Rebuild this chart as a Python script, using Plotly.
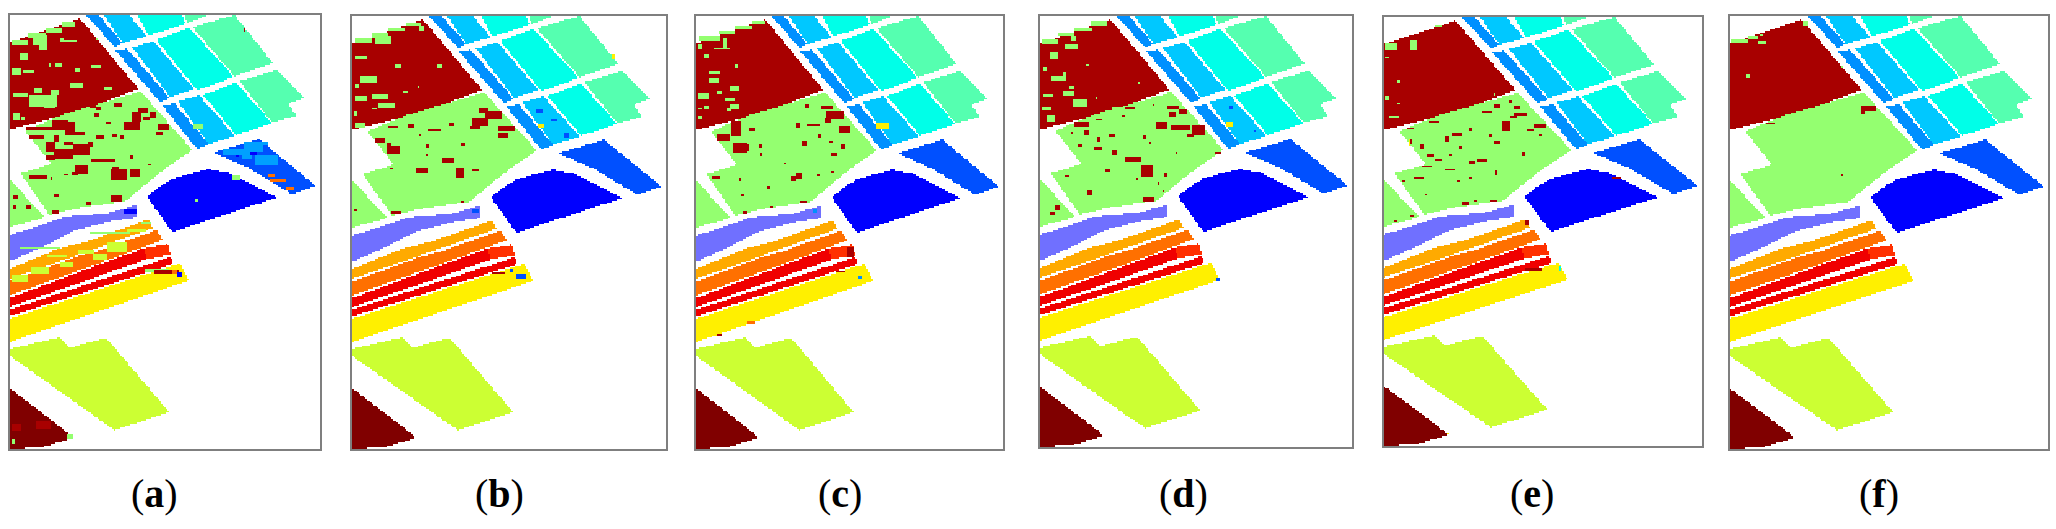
import numpy as np
import plotly.graph_objects as go

W, H = 2056, 529

panel_names = ["a", "b", "c", "d", "e", "f"]
# frame of each map on the page, pixels: left, right, top, bottom
page_frames = [(10, 320, 15, 449), (352, 666, 16, 449), (696, 1002.5, 16, 449),
               (1040, 1352, 16, 447), (1383.5, 1702, 17, 446), (1729.5, 2048, 16, 449)]
label_x = [154, 499, 840, 1183, 1532, 1879]
# speckles below in its own crop coordinates
crop_frames = [(30, 960, 44, 1346), (35, 978, 48, 1346), (48, 968, 48, 1346),
               (30, 966, 50, 1340), (40, 996, 52, 1340), (28, 983, 46, 1346)]

# colours of the classes, white background first
WHITE = "#ffffff"
DARK_RED = "#a80000"
GREEN = "#94ff70"
PERIWINKLE = "#7070ff"
AMBER = "#ffaa00"
ORANGE = "#ff7000"
RED_ORANGE = "#ff3000"
RED = "#f00000"
YELLOW = "#fff000"
LIME = "#ccff33"
MAROON = "#800000"
BLUE = "#0000ff"
MID_BLUE = "#0050ff"
STRIP_BLUE = "#0090ff"
LIGHT_BLUE = "#00c8ff"
CYAN = "#00ffe8"
AQUA = "#55ffb0"
SKY = "#00a0ff"
class_colors = [WHITE, DARK_RED, GREEN, PERIWINKLE, AMBER, ORANGE, RED_ORANGE, RED, YELLOW, LIME,
                MAROON, BLUE, MID_BLUE, STRIP_BLUE, LIGHT_BLUE, CYAN, AQUA, SKY]

# field outlines, in map units of the reference grid
fields = [
    (DARK_RED, [[(30, 128), (240, 58), (262, 78), (424, 268), (240, 335), (30, 388)]]),
    (GREEN, [[(75, 392), (190, 345), (430, 275), (590, 450), (500, 510), (385, 603), (230, 625),
              (150, 645), (60, 520), (155, 492)],
             [(30, 540), (135, 652), (30, 680)]]),
    (PERIWINKLE, [[(30, 705), (200, 650), (330, 640), (417, 615), (417, 652), (330, 665),
                   (230, 690), (120, 745), (30, 783)]]),
    (AMBER, [[(30, 805), (180, 745), (280, 720), (455, 658), (468, 684), (280, 750), (30, 835)]]),
    (ORANGE, [[(30, 843), (240, 768), (290, 756), (480, 690), (498, 720), (330, 780), (30, 885)]]),
    (RED, [[(30, 893), (300, 795), (440, 745), (450, 778), (30, 920)]]),
    (RED_ORANGE, [[(440, 745), (515, 732), (523, 764), (450, 778)]]),
    (RED, [[(30, 928), (525, 770), (528, 792), (30, 948)]]),
    (YELLOW, [[(30, 955), (552, 790), (578, 842), (30, 1025)]]),
    (LIME, [[(30, 1045), (180, 1012), (212, 1042), (325, 1013), (518, 1235), (350, 1290), (30, 1068)]]),
    (MAROON, [[(30, 1165), (225, 1312), (130, 1340), (30, 1346)]]),
    (BLUE, [[(450, 590), (490, 560), (530, 535), (640, 507), (700, 518), (852, 592), (528, 696)]]),
    (MID_BLUE, [[(655, 458), (795, 417), (970, 558), (895, 582), (765, 505)]]),
    (STRIP_BLUE, [[(262, 46), (300, 46), (375, 130), (352, 143)],
                  [(352, 152), (390, 148), (520, 295), (490, 307)],
                  [(497, 318), (535, 312), (640, 432), (605, 448)]]),
    (LIGHT_BLUE, [[(318, 46), (395, 46), (450, 110), (375, 130)],
                  [(405, 143), (470, 125), (595, 268), (522, 293)],
                  [(545, 305), (610, 287), (722, 408), (640, 432)]]),
    (CYAN, [[(420, 46), (558, 46), (568, 72), (455, 108)],
            [(478, 120), (580, 85), (718, 232), (605, 272)],
            [(622, 285), (725, 250), (835, 370), (725, 405)]]),
    (AQUA, [[(565, 46), (640, 46), (575, 70)],
            [(590, 82), (720, 46), (838, 190), (720, 230)],
            [(735, 245), (850, 210), (935, 295), (885, 312), (910, 350), (835, 368)]]),
]

# misclassified patches per map: centre x, centre y, width, height
a_green = [(60, 125, 50, 14), (110, 108, 50, 16), (160, 90, 50, 16), (205, 72, 40, 14),
           (120, 120, 40, 30), (130, 140, 24, 14), (70, 170, 25, 20), (50, 215, 30, 20), (85, 215, 35, 10),
           (175, 195, 20, 12), (230, 255, 35, 14), (290, 198, 30, 10), (325, 265, 25, 12), (115, 270, 20, 15),
           (60, 285, 45, 10), (130, 300, 80, 35), (105, 290, 30, 10), (165, 275, 25, 14), (150, 320, 36, 12),
           (50, 350, 20, 20), (70, 355, 12, 10), (232, 210, 10, 10), (210, 122, 40, 6), (185, 120, 8, 8),
           (290, 118, 6, 6), (150, 195, 6, 10), (710, 532, 25, 15), (590, 600, 10, 8), (595, 375, 30, 15),
           (470, 810, 70, 8), (210, 1310, 16, 14), (40, 1322, 14, 14), (440, 668, 30, 6), (330, 700, 120, 5),
           (120, 745, 120, 5)]
a_red = [(120, 385, 80, 14), (180, 375, 50, 30), (210, 385, 30, 40), (240, 400, 30, 10), (110, 410, 40, 10),
         (150, 440, 30, 30), (190, 460, 60, 30), (245, 445, 50, 35), (205, 430, 30, 10), (150, 470, 30, 15),
         (170, 415, 16, 24), (270, 432, 16, 14), (295, 325, 15, 10), (355, 315, 25, 8), (430, 330, 30, 14),
         (410, 350, 30, 30), (395, 375, 50, 25), (440, 355, 20, 12), (460, 345, 20, 20), (490, 380, 35, 20),
         (480, 400, 20, 10), (325, 368, 14, 6), (345, 405, 14, 10), (300, 410, 20, 8), (310, 480, 70, 14),
         (245, 505, 40, 25), (225, 520, 20, 12), (355, 520, 50, 35), (345, 505, 20, 10), (405, 515, 30, 25),
         (350, 595, 35, 20), (170, 585, 16, 10), (265, 610, 14, 8), (115, 530, 50, 8), (155, 535, 8, 10),
         (200, 522, 14, 6), (45, 590, 14, 8), (85, 620, 14, 8), (45, 620, 10, 6), (395, 470, 14, 8),
         (450, 492, 12, 6), (165, 635, 20, 6), (290, 345, 14, 10), (280, 320, 20, 8), (365, 410, 10, 6),
         (500, 815, 70, 8), (130, 1275, 40, 25), (50, 1280, 30, 20), (732, 90, 6, 8)]
a_lime = [(350, 740, 60, 30), (300, 770, 40, 20), (200, 795, 40, 15), (120, 810, 50, 20), (60, 835, 50, 20),
          (260, 755, 50, 8), (410, 690, 60, 6), (170, 770, 60, 5)]
a_light = [(700, 455, 60, 20), (760, 440, 60, 30), (800, 480, 70, 30), (740, 465, 30, 20), (785, 430, 40, 14)]
a_orange = [(815, 525, 20, 12), (835, 540, 50, 10), (870, 565, 20, 10), (525, 815, 12, 12)]
a_blue = [(538, 822, 16, 16), (390, 632, 36, 16), (712, 468, 8, 8), (760, 460, 16, 6)]

b_green = [(70, 120, 50, 14), (120, 105, 50, 14), (170, 88, 50, 14), (220, 72, 40, 12), (130, 120, 50, 25),
           (245, 85, 14, 12), (60, 175, 35, 10), (85, 240, 50, 20), (175, 198, 20, 8), (300, 200, 14, 10),
           (195, 275, 12, 8), (120, 290, 50, 12), (60, 295, 35, 12), (140, 315, 50, 14), (50, 260, 14, 10),
           (100, 325, 14, 8), (235, 262, 8, 6), (45, 340, 14, 14), (60, 375, 30, 16), (300, 320, 40, 8)]
b_red = [(430, 330, 30, 12), (460, 345, 50, 25), (420, 365, 50, 20), (500, 385, 50, 16), (490, 405, 30, 14),
         (405, 380, 30, 10), (280, 390, 40, 8), (240, 405, 8, 8), (215, 378, 20, 10), (160, 380, 30, 8),
         (120, 420, 30, 16), (160, 450, 40, 22), (145, 440, 14, 30), (260, 438, 10, 12), (370, 430, 14, 10),
         (335, 372, 14, 6), (325, 480, 35, 14), (245, 510, 30, 12), (360, 518, 25, 30), (405, 508, 20, 6),
         (155, 505, 8, 6), (170, 635, 30, 10), (45, 630, 10, 6), (260, 465, 8, 6), (365, 603, 8, 6),
         (475, 818, 40, 5)]
b_blue = [(680, 405, 14, 14), (640, 360, 20, 8), (600, 335, 20, 10), (545, 830, 30, 16), (515, 812, 10, 14),
          (405, 632, 20, 10)]
b_yellow = [(605, 378, 20, 10), (820, 170, 8, 14)]

c_green = [(90, 115, 60, 12), (140, 98, 50, 12), (190, 82, 50, 12), (235, 68, 40, 10), (60, 140, 18, 12),
           (135, 130, 8, 30), (125, 145, 50, 6), (80, 170, 16, 10), (103, 218, 30, 14), (100, 240, 30, 14),
           (163, 265, 30, 14), (70, 290, 36, 20), (120, 280, 14, 10), (150, 297, 30, 8), (165, 322, 30, 16),
           (145, 328, 14, 10), (80, 325, 14, 10), (60, 325, 14, 8), (60, 352, 14, 10), (170, 198, 8, 6)]
c_red = [(440, 325, 35, 10), (465, 345, 50, 25), (445, 360, 20, 16), (400, 375, 40, 6), (495, 388, 35, 22),
         (355, 375, 14, 10), (380, 318, 8, 10), (420, 407, 10, 14), (372, 428, 14, 16), (452, 425, 10, 8),
         (490, 438, 16, 14), (462, 460, 20, 10), (215, 388, 18, 8), (170, 385, 30, 40), (130, 410, 40, 20),
         (180, 440, 40, 30), (205, 440, 8, 20), (240, 438, 8, 8), (245, 462, 4, 6), (355, 525, 20, 20),
         (340, 535, 12, 12), (415, 525, 12, 8), (458, 515, 12, 6), (108, 533, 24, 12), (265, 562, 10, 12),
         (188, 585, 6, 8), (370, 605, 20, 8), (195, 635, 16, 10), (275, 618, 8, 6), (180, 537, 4, 8),
         (313, 488, 4, 4), (118, 1003, 12, 4), (480, 815, 30, 8), (510, 755, 20, 30)]
c_yellow = [(607, 378, 36, 18)]
c_orange = [(212, 968, 24, 10)]
c_blue = [(540, 832, 8, 14), (405, 632, 12, 6)]

d_green = [(60, 125, 50, 14), (110, 105, 50, 14), (160, 90, 50, 12), (205, 72, 50, 12), (125, 142, 40, 14),
           (130, 118, 12, 12), (70, 170, 24, 18), (170, 196, 10, 8), (85, 235, 44, 16), (105, 225, 10, 14),
           (45, 210, 10, 8), (115, 280, 36, 14), (125, 262, 12, 8), (55, 288, 30, 12), (150, 310, 46, 24),
           (200, 297, 6, 6), (50, 328, 30, 8), (60, 358, 24, 20), (270, 325, 50, 6), (328, 250, 6, 6),
           (688, 478, 4, 6)]
d_red = [(430, 325, 36, 10), (425, 345, 20, 12), (460, 335, 24, 12), (395, 377, 30, 20), (450, 385, 60, 12),
         (505, 392, 40, 30), (480, 405, 20, 10), (370, 315, 8, 8), (308, 480, 50, 18), (350, 515, 32, 34),
         (405, 525, 10, 10), (255, 460, 14, 14), (208, 420, 10, 14), (205, 445, 24, 10), (150, 437, 16, 14),
         (170, 398, 14, 14), (155, 375, 40, 12), (205, 362, 20, 6), (245, 405, 20, 10), (345, 410, 10, 10),
         (235, 510, 14, 10), (110, 528, 14, 8), (180, 578, 14, 14), (355, 598, 36, 12), (385, 552, 8, 10),
         (320, 540, 6, 6), (400, 575, 4, 6), (565, 460, 20, 6), (80, 625, 14, 14), (65, 640, 14, 6),
         (125, 400, 6, 4), (300, 325, 30, 6), (280, 350, 6, 6), (440, 460, 6, 8), (360, 430, 6, 6)]
d_yellow = [(600, 375, 18, 12)]
d_blue = [(604, 323, 12, 6), (672, 393, 4, 6), (563, 837, 10, 10)]

e_green = [(62, 143, 36, 20), (130, 135, 16, 30), (85, 245, 10, 10), (50, 175, 8, 6), (50, 295, 8, 6),
           (85, 312, 10, 6), (70, 352, 30, 6), (372, 285, 6, 8), (205, 78, 20, 4)]
e_red = [(440, 325, 24, 8), (420, 305, 14, 10), (378, 320, 20, 10), (450, 345, 40, 12), (430, 352, 20, 6),
         (408, 378, 24, 30), (510, 380, 36, 10), (480, 393, 20, 6), (510, 408, 14, 6), (300, 390, 8, 10),
         (350, 335, 30, 4), (358, 410, 10, 10), (378, 430, 20, 8), (460, 463, 10, 10), (378, 522, 6, 14),
         (335, 482, 30, 10), (305, 488, 20, 8), (240, 510, 30, 6), (260, 405, 30, 10), (230, 420, 10, 20),
         (155, 440, 14, 18), (120, 425, 10, 14), (270, 445, 10, 10), (180, 468, 20, 6), (205, 482, 24, 6),
         (170, 500, 30, 6), (190, 365, 30, 6), (120, 388, 16, 4), (145, 533, 30, 4), (100, 542, 14, 4),
         (285, 612, 24, 10), (370, 604, 20, 6), (315, 605, 8, 6), (265, 545, 6, 6), (240, 465, 10, 6),
         (300, 535, 12, 4), (165, 585, 4, 8), (125, 648, 6, 4), (75, 665, 10, 4), (470, 668, 14, 18),
         (740, 533, 24, 4), (490, 810, 50, 6)]
e_yellow = [(118, 428, 8, 16), (232, 1302, 4, 6)]
e_cyan = [(568, 808, 6, 14)]

f_green = [(60, 122, 50, 10), (100, 112, 30, 10), (125, 128, 24, 10), (125, 102, 10, 6), (82, 225, 10, 10),
           (255, 68, 14, 14), (365, 200, 8, 6)]
f_red = [(445, 325, 44, 14), (430, 335, 10, 10), (150, 368, 24, 8), (365, 523, 8, 8)]

specks = {
    "a": [(a_lime, LIME), (a_green, GREEN), (a_red, DARK_RED), (a_light, SKY), (a_orange, ORANGE), (a_blue, BLUE)],
    "b": [(b_green, GREEN), (b_red, DARK_RED), (b_blue, MID_BLUE), (b_yellow, YELLOW)],
    "c": [(c_green, GREEN), (c_red, DARK_RED), (c_yellow, YELLOW), (c_orange, ORANGE), (c_blue, STRIP_BLUE)],
    "d": [(d_green, GREEN), (d_red, DARK_RED), (d_yellow, YELLOW), (d_blue, MID_BLUE)],
    "e": [(e_green, GREEN), (e_red, DARK_RED), (e_yellow, YELLOW), (e_cyan, CYAN)],
    "f": [(f_green, GREEN), (f_red, DARK_RED)],
}

# the field outlines use the crop of map f as their grid; one map pixel is CELL units
grid_left, grid_right, grid_top, grid_bottom = crop_frames[5]
CELL = 5
cell_x = np.arange(grid_left + CELL / 2, grid_right, CELL)
cell_y = np.arange(grid_top + CELL / 2, grid_bottom, CELL)
gx, gy = np.meshgrid(cell_x, cell_y)


def inside(outline):
    # ray casting over the whole grid
    hit = np.zeros(gx.shape, dtype=bool)
    for (x1, y1), (x2, y2) in zip(outline, outline[1:] + outline[:1]):
        if y1 == y2:
            continue
        crosses = (y1 > gy) != (y2 > gy)
        hit ^= crosses & (gx < (x2 - x1) * (gy - y1) / (y2 - y1) + x1)
    return hit


base = np.zeros(gx.shape, dtype=int)
for color, outlines in fields:
    for outline in outlines:
        base[inside(outline)] = class_colors.index(color)

# stepped colorscale, one band per class
n_classes = len(class_colors)
colorscale = []
for k, color in enumerate(class_colors):
    colorscale += [[k / n_classes, color], [(k + 1) / n_classes, color]]

fig = go.Figure()

for i, name in enumerate(panel_names):
    n = "" if i == 0 else str(i + 1)
    labels = base.copy()
    c_left, c_right, c_top, c_bottom = crop_frames[i]
    sx = (grid_right - grid_left) / (c_right - c_left)
    sy = (grid_bottom - grid_top) / (c_bottom - c_top)
    for patches, color in specks[name]:
        for cx, cy, w, h in patches:
            x = grid_left + (cx - c_left) * sx
            y = grid_top + (cy - c_top) * sy
            col0 = int((x - w * sx / 2 - grid_left) / CELL + 0.5)
            col1 = int((x + w * sx / 2 - grid_left) / CELL + 0.5)
            row0 = int((y - h * sy / 2 - grid_top) / CELL + 0.5)
            row1 = int((y + h * sy / 2 - grid_top) / CELL + 0.5)
            labels[row0:max(row1, row0 + 1), col0:max(col1, col0 + 1)] = class_colors.index(color)

    fig.add_trace(go.Heatmap(x=cell_x, y=cell_y, z=labels, zmin=0, zmax=n_classes, colorscale=colorscale,
                             showscale=False, hoverinfo="skip", xaxis="x" + n, yaxis="y" + n))

    left, right, top, bottom = page_frames[i]
    axis_style = dict(showgrid=False, zeroline=False, showticklabels=False, ticks="",
                      showline=True, mirror=True, linecolor="#7f7f7f", linewidth=1.5)
    fig.update_layout({
        "xaxis" + n: dict(domain=[left / W, right / W], range=[grid_left, grid_right],
                          anchor="y" + n, **axis_style),
        "yaxis" + n: dict(domain=[1 - bottom / H, 1 - top / H], range=[grid_bottom, grid_top],
                          anchor="x" + n, **axis_style),
    })
    fig.add_annotation(x=label_x[i] / W, y=1 - 493 / H, xref="paper", yref="paper", showarrow=False,
                       xanchor="center", yanchor="middle", text="(<b>%s</b>)" % name,
                       font=dict(family="Liberation Serif", size=40, color="#000000"))

fig.update_layout(width=W, height=H, margin=dict(l=0, r=0, t=0, b=0),
                  paper_bgcolor="white", plot_bgcolor="white", showlegend=False)

# the source maps were upscaled, so their pixels are slightly soft
soften = ("document.body.style.margin='0';"
          "document.head.insertAdjacentHTML('beforeend','<style>.hm image{filter:blur(0.7px)}</style>');")
fig.write_html("out.html", config={"displayModeBar": False}, post_script=soften)
